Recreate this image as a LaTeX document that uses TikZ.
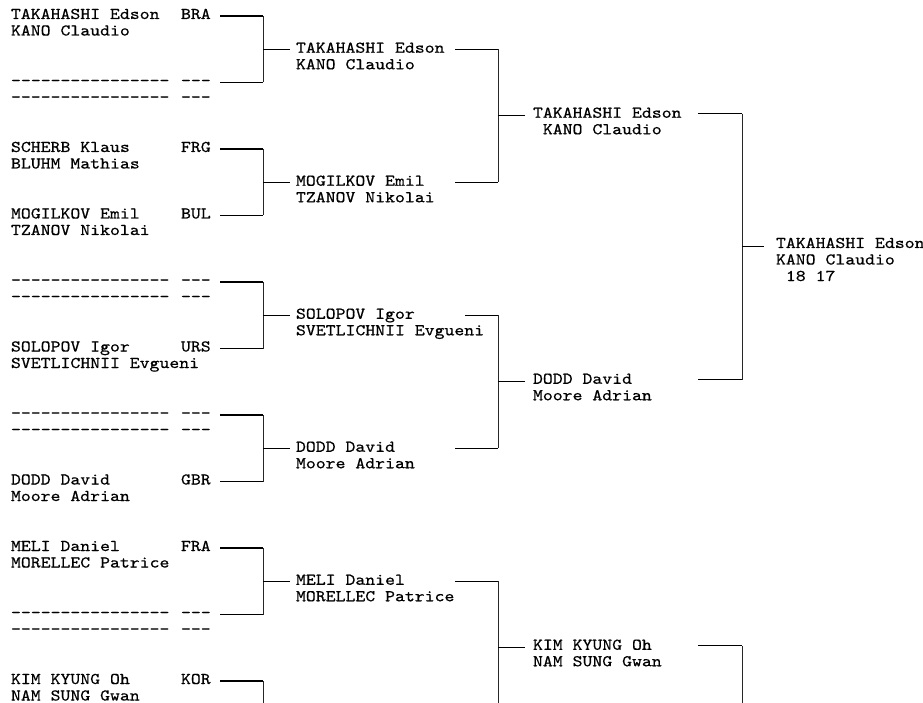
\documentclass[tikz,border=0pt]{standalone}
\usepackage{fontspec}
\setmonofont{lmmono10-regular}[Extension=.otf, FakeStretch=1.15, FakeBold=0.6]
\newcommand\dashrow{-\kern0pt-\kern0pt-\kern0pt-\kern0pt-\kern0pt-\kern0pt-\kern0pt-\kern0pt-\kern0pt-\kern0pt-\kern0pt-\kern0pt-\kern0pt-\kern0pt-\kern0pt-}
\newcommand\dashcode{-\kern0pt-\kern0pt-}
\begin{document}
\begin{tikzpicture}[x=1pt,y=-1pt,
  txt/.style={anchor=base west, inner sep=0pt, outer sep=0pt, font=\ttfamily\fontsize{16.4}{18}\selectfont},
  hline/.style={line width=1.4pt},
  vline/.style={line width=0.8pt, black!85},
]
\useasboundingbox (0,0) rectangle (923,703);

% ---- first round
\foreach \i/\na/\nb/\cc/\cd in {
 0/{TAKAHASHI Edson}/{KANO Claudio}/{BRA}/{},
 1/{\dashrow}/{\dashrow}/{\dashcode}/{\dashcode},
 2/{SCHERB Klaus}/{BLUHM Mathias}/{FRG}/{},
 3/{MOGILKOV Emil}/{TZANOV Nikolai}/{BUL}/{},
 4/{\dashrow}/{\dashrow}/{\dashcode}/{\dashcode},
 5/{SOLOPOV Igor}/{SVETLICHNII Evgueni}/{URS}/{},
 6/{\dashrow}/{\dashrow}/{\dashcode}/{\dashcode},
 7/{DODD David}/{Moore Adrian}/{GBR}/{},
 8/{MELI Daniel}/{MORELLEC Patrice}/{FRA}/{},
 9/{\dashrow}/{\dashrow}/{\dashcode}/{\dashcode},
 10/{KIM KYUNG Oh}/{NAM SUNG Gwan}/{KOR}/{}}{
  \pgfmathsetmacro\b{19+66.5*\i}
  \node[txt] (pa\i) at (11,\b) {\na};
  \node[txt] (pb\i) at (11,\b+16.5) {\nb};
  \node[txt] (ca\i) at (181,\b) {\cc};
  \node[txt] (cb\i) at (181,\b+16.5) {\cd};
  \coordinate (ls\i) at (220,\b-3);
  \coordinate (le\i) at (263,\b-3);
  \draw[hline] (ls\i) -- (le\i);
}
\coordinate (bot1) at (263,703);
\draw[vline] (le10) -- (bot1);

% ---- second round
\foreach \j/\na/\nb/\xs in {
 0/{TAKAHASHI Edson}/{KANO Claudio}/455,
 1/{MOGILKOV Emil}/{TZANOV Nikolai}/455,
 2/{SOLOPOV Igor}/{SVETLICHNII Evgueni}/465,
 3/{DODD David}/{Moore Adrian}/455,
 4/{MELI Daniel}/{MORELLEC Patrice}/455}{
  \pgfmathsetmacro\m{49.25+133*\j}
  \pgfmathtruncatemacro\u{2*\j}
  \pgfmathtruncatemacro\v{2*\j+1}
  \draw[vline] (le\u) -- (le\v);
  \coordinate (sa\j) at (263,\m);
  \coordinate (sb\j) at (290,\m);
  \draw[hline] (sa\j) -- (sb\j);
  \node[txt] (ra\j) at (296,\m+3.5) {\na};
  \node[txt] (rb\j) at (296,\m+20) {\nb};
  \coordinate (qs\j) at (\xs,\m);
  \coordinate (qe\j) at (498,\m);
  \draw[hline] (qs\j) -- (qe\j);
}
\coordinate (bot2) at (498,703);
\draw[vline] (qe4) -- (bot2);

% ---- third round
\foreach \k/\na/\nb/\ind in {
 0/{TAKAHASHI Edson}/{KANO Claudio}/9.9,
 1/{DODD David}/{Moore Adrian}/0,
 2/{KIM KYUNG Oh}/{NAM SUNG Gwan}/0}{
  \pgfmathsetmacro\m{115.75+266*\k}
  \pgfmathtruncatemacro\u{2*\k}
  \pgfmathtruncatemacro\v{2*\k+1}
  \ifnum\k<2 \draw[vline] (qe\u) -- (qe\v); \fi
  \coordinate (ta\k) at (498,\m);
  \coordinate (tb\k) at (525,\m);
  \draw[hline] (ta\k) -- (tb\k);
  \node[txt] (ua\k) at (533,\m+2) {\na};
  \node[txt] (ub\k) at (533+\ind,\m+18.5) {\nb};
  \coordinate (ws\k) at (698,\m-2);
  \coordinate (we\k) at (742,\m-2);
  \draw[hline] (ws\k) -- (we\k);
}
\coordinate (bot3) at (742,703);
\draw[vline] (we0) -- (we1);
\draw[vline] (we2) -- (bot3);

% ---- final
\coordinate (fa) at (742,246.75);
\coordinate (fb) at (764,246.75);
\draw[hline] (fa) -- (fb);
\node[txt] (fw1) at (776,248) {TAKAHASHI Edson};
\node[txt] (fw2) at (776,264.5) {KANO Claudio};
\node[txt] (fw3) at (785.9,281) {18 17};
\end{tikzpicture}
\end{document}
